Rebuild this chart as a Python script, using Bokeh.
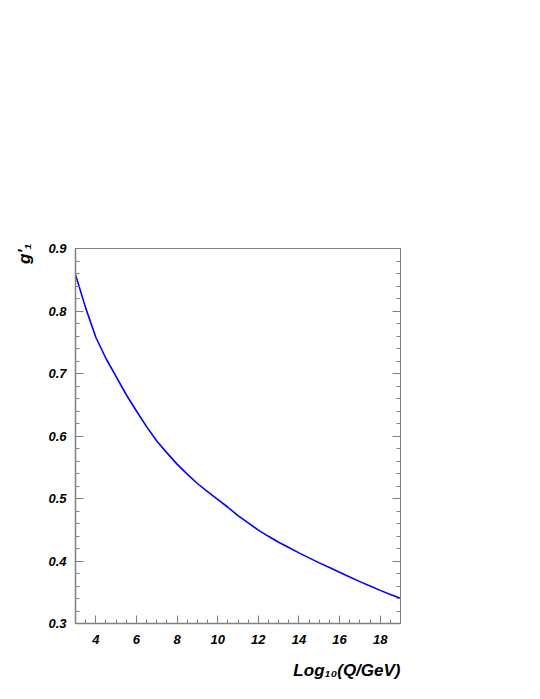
from bokeh.plotting import figure
from bokeh.models import (Range1d, SingleIntervalTicker, LinearAxis, Title,
                          PrintfTickFormatter, ColumnDataSource)
from bokeh.embed import file_html
from bokeh.resources import INLINE

# data
log10_q = [3, 3.5, 4, 4.5, 5, 5.5, 6, 6.5, 7, 7.5, 8, 8.5, 9, 9.5, 10, 10.5,
           11, 11.5, 12, 12.5, 13, 13.5, 14, 14.5, 15, 15.5, 16, 16.5, 17,
           17.5, 18, 18.5, 19]
g1_prime = [0.858, 0.805, 0.758, 0.724, 0.695, 0.666, 0.640, 0.615, 0.592,
            0.573, 0.555, 0.539, 0.524, 0.511, 0.4985, 0.486, 0.4725, 0.461,
            0.4495, 0.4395, 0.430, 0.4215, 0.413, 0.405, 0.397, 0.3895, 0.382,
            0.3745, 0.367, 0.360, 0.353, 0.3465, 0.3405]

x_title = "Log\u2081\u2080(Q/GeV)"
y_title = "g'\u2081"

FONT = "Liberation Sans"
AXC = "#808080"
W, H = 522, 683

p = figure(width=W, height=H, output_backend="svg", toolbar_location=None,
           x_range=Range1d(3, 19), y_range=Range1d(0.3, 0.9),
           frame_width=325, frame_height=375,
           min_border_left=75, min_border_top=248, min_border_right=122,
           min_border_bottom=60)
p.background_fill_color = "white"
p.border_fill_color = "white"
p.outline_line_color = AXC
p.outline_line_width = 1
p.xgrid.visible = False
p.ygrid.visible = False

src = ColumnDataSource(dict(x=log10_q, y=g1_prime))
p.line("x", "y", source=src, line_color="#0000ff", line_width=1.6)

def style(ax, labels=True):
    ax.axis_line_color = AXC
    ax.axis_line_width = 1.5
    ax.major_tick_line_color = AXC
    ax.minor_tick_line_color = AXC
    ax.major_tick_in = 8
    ax.major_tick_out = 0
    ax.minor_tick_in = 4
    ax.minor_tick_out = 0
    ax.major_label_text_font = FONT
    ax.major_label_text_font_style = "bold italic"
    ax.major_label_text_font_size = "13px"
    ax.major_label_text_color = "black"
    if not labels:
        ax.major_label_text_alpha = 0

p.xaxis.ticker = SingleIntervalTicker(interval=2, num_minor_ticks=4)
p.yaxis.ticker = SingleIntervalTicker(interval=0.1, num_minor_ticks=5)
p.yaxis.formatter = PrintfTickFormatter(format="%.1f")
style(p.xaxis[0])
style(p.yaxis[0])
p.xaxis.major_label_standoff = 11
p.yaxis.major_label_standoff = 9

ry = LinearAxis(ticker=SingleIntervalTicker(interval=0.1, num_minor_ticks=5))
style(ry, labels=False)
ry.axis_line_width = 1
p.add_layout(ry, "right")

p.add_layout(Title(text=x_title, align="right", text_font=FONT,
                   text_font_style="bold italic", text_font_size="17px",
                   text_color="black", standoff=24), "below")
p.add_layout(Title(text=y_title, align="right", text_font=FONT,
                   text_font_style="bold italic", text_font_size="17px",
                   text_color="black", standoff=24, offset=-5), "left")

open("out.html", "w").write(file_html(p, INLINE))
